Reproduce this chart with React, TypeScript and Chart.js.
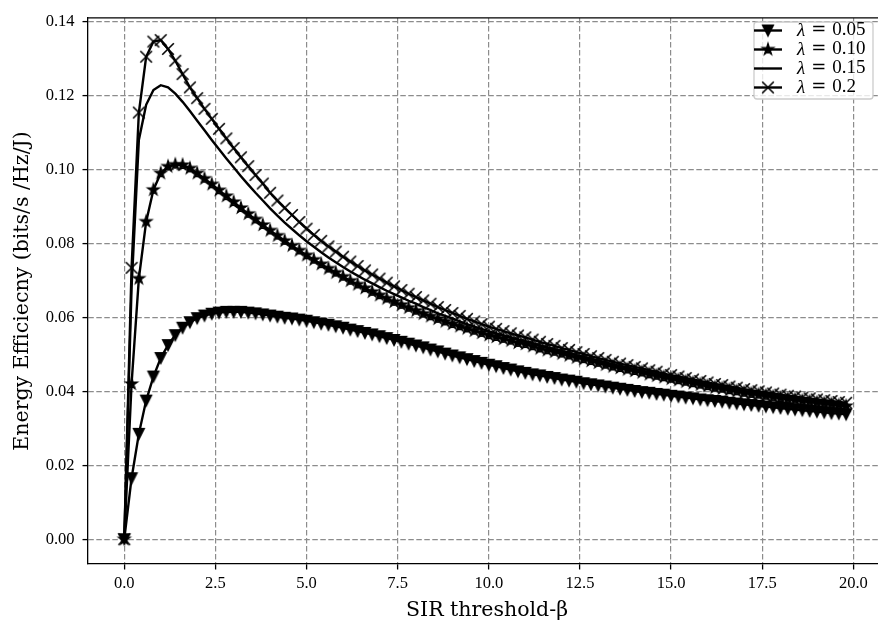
import React, { useEffect, useRef } from "react";
import { Chart, registerables } from "chart.js";
Chart.register(...registerables);

const betaValues = [
  0, 0.2, 0.4, 0.6, 0.8, 1.0, 1.2, 1.4, 1.6, 1.8,
  2.0, 2.2, 2.4, 2.6, 2.8, 3.0, 3.2, 3.4, 3.6, 3.8,
  4.0, 4.2, 4.4, 4.6, 4.8, 5.0, 5.2, 5.4, 5.6, 5.8,
  6.0, 6.2, 6.4, 6.6, 6.8, 7.0, 7.2, 7.4, 7.6, 7.8,
  8.0, 8.2, 8.4, 8.6, 8.8, 9.0, 9.2, 9.4, 9.6, 9.8,
  10.0, 10.2, 10.4, 10.6, 10.8, 11.0, 11.2, 11.4, 11.6, 11.8,
  12.0, 12.2, 12.4, 12.6, 12.8, 13.0, 13.2, 13.4, 13.6, 13.8,
  14.0, 14.2, 14.4, 14.6, 14.8, 15.0, 15.2, 15.4, 15.6, 15.8,
  16.0, 16.2, 16.4, 16.6, 16.8, 17.0, 17.2, 17.4, 17.6, 17.8,
  18.0, 18.2, 18.4, 18.6, 18.8, 19.0, 19.2, 19.4, 19.6, 19.8,
];

const eeLambda005 = [
  0, 0.0165, 0.0285, 0.0375, 0.0440, 0.0490, 0.0525, 0.0552, 0.0572, 0.0587,
  0.0598, 0.0605, 0.0610, 0.0613, 0.0615, 0.0615, 0.0615, 0.0613, 0.0611, 0.0608,
  0.0605, 0.0602, 0.0599, 0.0597, 0.0594, 0.0591, 0.0587, 0.0583, 0.0580, 0.0576,
  0.0572, 0.0567, 0.0563, 0.0558, 0.0554, 0.0549, 0.0544, 0.0539, 0.0534, 0.0529,
  0.0524, 0.0519, 0.0513, 0.0508, 0.0502, 0.0497, 0.0492, 0.0487, 0.0482, 0.0477,
  0.0472, 0.0468, 0.0463, 0.0459, 0.0454, 0.0450, 0.0446, 0.0443, 0.0439, 0.0436,
  0.0432, 0.0429, 0.0426, 0.0422, 0.0419, 0.0416, 0.0413, 0.0410, 0.0407, 0.0404,
  0.0401, 0.0398, 0.0396, 0.0393, 0.0391, 0.0388, 0.0386, 0.0383, 0.0381, 0.0378,
  0.0376, 0.0374, 0.0372, 0.0369, 0.0367, 0.0365, 0.0363, 0.0361, 0.0359, 0.0357,
  0.0355, 0.0353, 0.0351, 0.0349, 0.0347, 0.0345, 0.0343, 0.0341, 0.0340, 0.0338,
];

const eeLambda010 = [
  0, 0.0420, 0.0705, 0.0859, 0.0945, 0.0990, 0.1008, 0.1013, 0.1012, 0.1003,
  0.0990, 0.0975, 0.0960, 0.0944, 0.0928, 0.0912, 0.0896, 0.0880, 0.0865, 0.0850,
  0.0835, 0.0821, 0.0807, 0.0794, 0.0781, 0.0768, 0.0756, 0.0744, 0.0732, 0.0721,
  0.0710, 0.0699, 0.0689, 0.0679, 0.0669, 0.0660, 0.0651, 0.0642, 0.0634, 0.0626,
  0.0618, 0.0610, 0.0603, 0.0596, 0.0589, 0.0582, 0.0576, 0.0570, 0.0564, 0.0558,
  0.0552, 0.0547, 0.0542, 0.0537, 0.0531, 0.0528, 0.0522, 0.0516, 0.0511, 0.0507,
  0.0502, 0.0497, 0.0491, 0.0487, 0.0482, 0.0477, 0.0472, 0.0467, 0.0463, 0.0459,
  0.0455, 0.0451, 0.0446, 0.0442, 0.0438, 0.0434, 0.0430, 0.0426, 0.0422, 0.0418,
  0.0414, 0.0410, 0.0407, 0.0403, 0.0400, 0.0396, 0.0393, 0.0391, 0.0388, 0.0385,
  0.0382, 0.0379, 0.0377, 0.0374, 0.0372, 0.0369, 0.0367, 0.0365, 0.0362, 0.0360,
];

const eeLambda015 = [
  0, 0.0680, 0.1080, 0.1175, 0.1215, 0.1228, 0.1222, 0.1205, 0.1183, 0.1158,
  0.1132, 0.1106, 0.1080, 0.1055, 0.1030, 0.1006, 0.0982, 0.0959, 0.0937, 0.0916,
  0.0895, 0.0875, 0.0856, 0.0839, 0.0822, 0.0806, 0.0791, 0.0776, 0.0762, 0.0749,
  0.0736, 0.0724, 0.0713, 0.0702, 0.0692, 0.0682, 0.0672, 0.0663, 0.0654, 0.0645,
  0.0637, 0.0628, 0.0620, 0.0611, 0.0604, 0.0597, 0.0589, 0.0582, 0.0575, 0.0569,
  0.0562, 0.0557, 0.0551, 0.0546, 0.0540, 0.0536, 0.0530, 0.0524, 0.0519, 0.0514,
  0.0509, 0.0504, 0.0498, 0.0493, 0.0488, 0.0483, 0.0478, 0.0473, 0.0469, 0.0465,
  0.0460, 0.0456, 0.0451, 0.0447, 0.0443, 0.0439, 0.0435, 0.0431, 0.0427, 0.0423,
  0.0419, 0.0415, 0.0412, 0.0408, 0.0405, 0.0401, 0.0398, 0.0396, 0.0393, 0.0390,
  0.0387, 0.0384, 0.0382, 0.0379, 0.0377, 0.0374, 0.0372, 0.0370, 0.0367, 0.0365,
];

const eeLambda020 = [
  0, 0.0734, 0.1154, 0.1305, 0.1346, 0.1350, 0.1326, 0.1294, 0.1258, 0.1222,
  0.1193, 0.1164, 0.1137, 0.1110, 0.1084, 0.1058, 0.1033, 0.1009, 0.0985, 0.0962,
  0.0937, 0.0916, 0.0896, 0.0877, 0.0858, 0.0840, 0.0823, 0.0807, 0.0792, 0.0778,
  0.0764, 0.0751, 0.0739, 0.0727, 0.0716, 0.0705, 0.0694, 0.0684, 0.0674, 0.0664,
  0.0655, 0.0646, 0.0637, 0.0628, 0.0620, 0.0612, 0.0604, 0.0596, 0.0589, 0.0582,
  0.0575, 0.0569, 0.0563, 0.0557, 0.0551, 0.0546, 0.0540, 0.0534, 0.0528, 0.0523,
  0.0517, 0.0512, 0.0506, 0.0501, 0.0495, 0.0490, 0.0485, 0.0480, 0.0475, 0.0471,
  0.0466, 0.0462, 0.0457, 0.0453, 0.0448, 0.0444, 0.0440, 0.0436, 0.0432, 0.0428,
  0.0424, 0.0420, 0.0417, 0.0413, 0.0410, 0.0406, 0.0403, 0.0400, 0.0397, 0.0394,
  0.0391, 0.0388, 0.0386, 0.0383, 0.0381, 0.0378, 0.0376, 0.0374, 0.0371, 0.0369,
];

const seriesLambdas = ["0.05", "0.10", "0.15", "0.2"];
const seriesLabels = seriesLambdas.map((v) => `λ = ${v}`);
const xTitle = "SIR threshold-β";
const yTitle = "Energy Efficiecny (bits/s /Hz/J)";

const SERIF = "'Liberation Serif', 'DejaVu Serif', serif";
const TITLE_SERIF = "'DejaVu Serif', 'Liberation Serif', serif";

function makeMarker(kind: string): HTMLCanvasElement {
  const size = 18;
  const c = document.createElement("canvas");
  c.width = size;
  c.height = size;
  const ctx = c.getContext("2d")!;
  const m = size / 2;
  ctx.fillStyle = "#000";
  ctx.strokeStyle = "#000";
  ctx.lineJoin = "miter";
  if (kind === "tri") {
    const h = 5.4;
    ctx.lineWidth = 1.4;
    ctx.beginPath();
    ctx.moveTo(m, m + h);
    ctx.lineTo(m - h, m - h);
    ctx.lineTo(m + h, m - h);
    ctx.closePath();
    ctx.fill();
    ctx.stroke();
  } else if (kind === "star") {
    const ro = 6.2;
    const ri = ro * 0.381966;
    ctx.lineWidth = 1.2;
    ctx.beginPath();
    for (let i = 0; i < 10; i++) {
      const r = i % 2 === 0 ? ro : ri;
      const a = -Math.PI / 2 + (i * Math.PI) / 5;
      const px = m + r * Math.cos(a);
      const py = m + r * Math.sin(a);
      if (i === 0) ctx.moveTo(px, py);
      else ctx.lineTo(px, py);
    }
    ctx.closePath();
    ctx.fill();
    ctx.stroke();
  } else if (kind === "x") {
    const h = 5.8;
    ctx.lineWidth = 1.6;
    ctx.lineCap = "butt";
    ctx.beginPath();
    ctx.moveTo(m - h, m - h);
    ctx.lineTo(m + h, m + h);
    ctx.moveTo(m - h, m + h);
    ctx.lineTo(m + h, m - h);
    ctx.stroke();
  }
  return c;
}

export default function App() {
  const canvasRef = useRef<HTMLCanvasElement | null>(null);

  useEffect(() => {
    const canvas = canvasRef.current;
    if (!canvas) return;
    const tri = makeMarker("tri");
    const star = makeMarker("star");
    const cross = makeMarker("x");
    const markers: (HTMLCanvasElement | null)[] = [tri, star, null, cross];
    const seriesValues = [eeLambda005, eeLambda010, eeLambda015, eeLambda020];

    const framePlugin = {
      id: "frameAndLegend",
      afterDraw(chart: any) {
        const { ctx, chartArea } = chart;
        ctx.save();
        ctx.strokeStyle = "#000";
        ctx.lineWidth = 1.3;
        ctx.beginPath();
        ctx.moveTo(chartArea.left - 0.65, chartArea.top);
        ctx.lineTo(chartArea.right, chartArea.top);
        ctx.lineTo(chartArea.right, chartArea.bottom);
        ctx.stroke();

        // legend
        const bx = 754, by = 22, bw = 119, bh = 77, r = 3;
        ctx.beginPath();
        ctx.moveTo(bx + r, by);
        ctx.lineTo(bx + bw - r, by);
        ctx.quadraticCurveTo(bx + bw, by, bx + bw, by + r);
        ctx.lineTo(bx + bw, by + bh - r);
        ctx.quadraticCurveTo(bx + bw, by + bh, bx + bw - r, by + bh);
        ctx.lineTo(bx + r, by + bh);
        ctx.quadraticCurveTo(bx, by + bh, bx, by + bh - r);
        ctx.lineTo(bx, by + r);
        ctx.quadraticCurveTo(bx, by, bx + r, by);
        ctx.closePath();
        ctx.fillStyle = "rgba(255,255,255,0.8)";
        ctx.fill();
        ctx.strokeStyle = "#cccccc";
        ctx.lineWidth = 1.3;
        ctx.stroke();

        const rows = [30.5, 49.5, 68.5, 87.5];
        rows.forEach((ry, i) => {
          ctx.strokeStyle = "#000";
          ctx.lineWidth = 2.4;
          ctx.beginPath();
          ctx.moveTo(754, ry);
          ctx.lineTo(782, ry);
          ctx.stroke();
          const mk = markers[i];
          if (mk) ctx.drawImage(mk, 768 - mk.width / 2, ry - mk.height / 2);
          ctx.fillStyle = "#000";
          ctx.textBaseline = "middle";
          ctx.textAlign = "left";
          let x = 797;
          ctx.font = `italic 19px ${SERIF}`;
          ctx.fillText("λ", x, ry);
          x += ctx.measureText("λ").width + 6;
          ctx.font = `18px ${TITLE_SERIF}`;
          ctx.fillText("=", x, ry);
          x += ctx.measureText("=").width + 6;
          ctx.font = `19px ${SERIF}`;
          ctx.fillText(seriesLambdas[i], x, ry);
        });
        ctx.restore();
      },
    };

    const datasets = seriesValues.map((vals, i) => ({
      label: seriesLabels[i],
      data: betaValues.map((b, j) => ({ x: b, y: vals[j] })),
      borderColor: "#000",
      backgroundColor: "#000",
      borderWidth: 2.4,
      showLine: true,
      pointStyle: (markers[i] || "circle") as any,
      pointRadius: markers[i] ? 5 : 0,
      pointHoverRadius: markers[i] ? 5 : 0,
      order: 4 - i,
      tension: 0,
      clip: false as any,
    }));

    const chart = new Chart(canvas, {
      type: "scatter",
      data: { datasets },
      options: {
        animation: false,
        responsive: false,
        devicePixelRatio: 1,
        events: [],
        layout: { padding: { left: 0, top: 12, right: 14, bottom: 0 } },
        plugins: { legend: { display: false }, tooltip: { enabled: false } },
        scales: {
          x: {
            type: "linear",
            min: -0.995,
            max: 20.895,
            afterFit: (s: any) => { s.height = 59; },
            ticks: {
              stepSize: 2.5,
              includeBounds: false,
              autoSkip: false,
              maxRotation: 0,
              padding: 4,
              color: "#000",
              font: { family: SERIF, size: 16.5 },
              callback: (v: any) => Number(v).toFixed(1),
            },
            grid: {
              color: "#8c8c8c",
              lineWidth: 1.2,
              tickColor: "#000",
              tickLength: 5.5,
              tickWidth: 1.3,
            },
            border: { display: true, color: "#000", width: 1.3, dash: [5.5, 2.5] },
            title: {
              display: true,
              text: xTitle,
              color: "#000",
              font: { family: TITLE_SERIF, size: 20.5 },
              padding: { top: 5, bottom: 0 },
            },
          },
          y: {
            type: "linear",
            min: -0.0067,
            max: 0.141,
            afterFit: (s: any) => { s.width = 88; },
            ticks: {
              stepSize: 0.02,
              includeBounds: false,
              autoSkip: false,
              padding: 8,
              color: "#000",
              font: { family: SERIF, size: 16.5 },
              callback: (v: any) => Number(v).toFixed(2),
            },
            grid: {
              color: "#8c8c8c",
              lineWidth: 1.2,
              tickColor: "#000",
              tickLength: 5.5,
              tickWidth: 1.3,
            },
            border: { display: true, color: "#000", width: 1.3, dash: [5.5, 2.5] },
            title: {
              display: true,
              text: yTitle,
              color: "#000",
              font: { family: TITLE_SERIF, size: 20.5 },
              padding: { top: 10, bottom: 0 },
            },
          },
        },
      },
      plugins: [framePlugin],
    });
    return () => chart.destroy();
  }, []);

  return (
    <div
      style={{
        position: "fixed",
        left: 0,
        top: 0,
        width: 878,
        height: 623,
        overflow: "hidden",
        background: "#fff",
      }}
    >
      <canvas ref={canvasRef} width={900} height={623} style={{ width: 900, height: 623, display: "block" }} />
    </div>
  );
}
